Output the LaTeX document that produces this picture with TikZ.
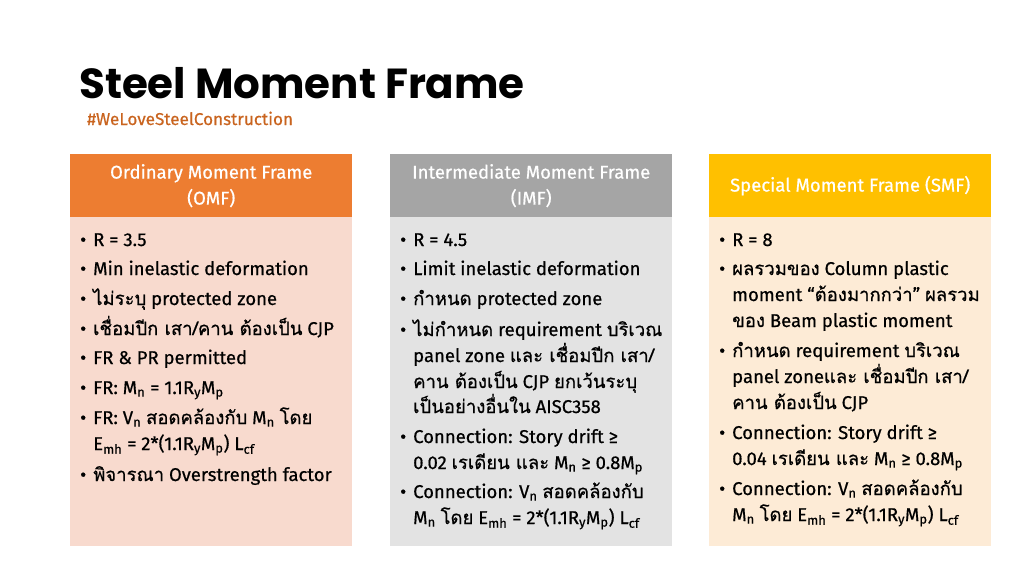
\documentclass[tikz,border=0pt]{standalone}
\usepackage{fontspec}
\setmainfont{Fira Sans}[FakeBold=0.6]
\newfontfamily\titlefont{Poppins}
\newfontfamily\thaifont[Script=Thai,FakeBold=0.6]{Loma}
\newcommand\tha[1]{{\thaifont #1}}
\newcommand\sbs[1]{\textsubscript{#1}}
\newcommand\bul{\llap{•\hspace{7pt}}}
\definecolor{hOrange}{HTML}{ED7D31}
\definecolor{bOrange}{HTML}{F8DACE}
\definecolor{hGray}{HTML}{A5A5A5}
\definecolor{bGray}{HTML}{E3E3E3}
\definecolor{hGold}{HTML}{FFC000}
\definecolor{bGold}{HTML}{FDEBD6}
\definecolor{tagc}{HTML}{C9641F}
\begin{document}
\begin{tikzpicture}[x=1pt,y=-1pt,
  hdr/.style={anchor=north west, minimum width=282pt, minimum height=63pt, inner sep=0pt, align=center, text=white, font=\fontsize{18.5}{26}\selectfont},
  bodybox/.style={anchor=north west, minimum width=282pt, minimum height=329pt, inner sep=0pt},
  item/.style={anchor=base west, inner sep=0pt, font=\fontsize{18.5}{20}\selectfont}]
\useasboundingbox (0,0) rectangle (1024,576);
\node[anchor=base west, inner sep=0pt, font=\titlefont\bfseries\fontsize{42}{46}\selectfont] (title) at (79,98) {Steel Moment Frame};
\node[anchor=base west, inner sep=0pt, text=tagc, font=\fontsize{17.1}{18}\selectfont] (tag) at (87,125) {\#WeLoveSteelConstruction};
% column boxes
\node[bodybox, fill=bOrange] (b1) at (70,217) {};
\node[bodybox, fill=bGray] (b2) at (390,217) {};
\node[bodybox, fill=bGold] (b3) at (709,217) {};
\node[hdr, fill=hOrange] (h1) at (70,154) {Ordinary Moment Frame\\(OMF)};
\node[hdr, fill=hGray] (h2) at (390,154) {Intermediate Moment Frame\\(IMF)};
\node[hdr, fill=hGold] (h3) at (709,154) {Special Moment Frame (SMF)};
% column 1
\node[item] (a1) at (93,246) {\bul R = 3.5};
\node[item] (a2) at (93,275) {\bul Min inelastic deformation};
\node[item] (a3) at (93,305) {\bul\tha{ไม่ระบุ} protected zone};
\node[item] (a4) at (93,335) {\bul\tha{เชื่อมปีก เสา/คาน ต้องเป็น} CJP};
\node[item] (a5) at (93,364) {\bul FR \& PR permitted};
\node[item] (a6) at (93,394) {\bul FR: M\sbs{n} = 1.1R\sbs{y}M\sbs{p}};
\node[item] (a7) at (93,424) {\bul FR: V\sbs{n} \tha{สอดคล้องกับ} M\sbs{n} \tha{โดย}};
\node[item] (a8) at (93,450) {E\sbs{mh} = 2*(1.1R\sbs{y}M\sbs{p}) L\sbs{cf}};
\node[item] (a9) at (93,481) {\bul\tha{พิจารณา} Overstrength factor};
% column 2
\node[item] (m1) at (413,246) {\bul R = 4.5};
\node[item] (m2) at (413,275) {\bul Limit inelastic deformation};
\node[item] (m3) at (413,305) {\bul\tha{กำหนด} protected zone};
\node[item] (m4) at (413,336) {\bul\tha{ไม่กำหนด} requirement \tha{บริเวณ}};
\node[item] (m5) at (413,362) {panel zone \tha{และ เชื่อมปีก เสา/}};
\node[item] (m6) at (413,388) {\tha{คาน ต้องเป็น} CJP \tha{ยกเว้นระบุ}};
\node[item] (m7) at (413,413) {\tha{เป็นอย่างอื่นใน} AISC358};
\node[item] (m8) at (413,443) {\bul Connection: Story drift ≥};
\node[item] (m9) at (413,469) {0.02 \tha{เรเดียน และ} M\sbs{n} ≥ 0.8M\sbs{p}};
\node[item] (m10) at (413,498) {\bul Connection: V\sbs{n} \tha{สอดคล้องกับ}};
\node[item] (m11) at (413,524) {M\sbs{n} \tha{โดย} E\sbs{mh} = 2*(1.1R\sbs{y}M\sbs{p}) L\sbs{cf}};
% column 3
\node[item] (s1) at (732,246) {\bul R = 8};
\node[item] (s2) at (732,275) {\bul\tha{ผลรวมของ} Column plastic};
\node[item] (s3) at (732,301) {moment “\tha{ต้องมากกว่า}” \tha{ผลรวม}};
\node[item] (s4) at (732,327) {\tha{ของ} Beam plastic moment};
\node[item] (s5) at (732,357) {\bul\tha{กำหนด} requirement \tha{บริเวณ}};
\node[item] (s6) at (732,383) {panel zone\tha{และ เชื่อมปีก เสา/}};
\node[item] (s7) at (732,409) {\tha{คาน ต้องเป็น} CJP};
\node[item] (s8) at (732,439) {\bul Connection: Story drift ≥};
\node[item] (s9) at (732,465) {0.04 \tha{เรเดียน และ} M\sbs{n} ≥ 0.8M\sbs{p}};
\node[item] (s10) at (732,495) {\bul Connection: V\sbs{n} \tha{สอดคล้องกับ}};
\node[item] (s11) at (732,521) {M\sbs{n} \tha{โดย} E\sbs{mh} = 2*(1.1R\sbs{y}M\sbs{p}) L\sbs{cf}};
\end{tikzpicture}
\end{document}
